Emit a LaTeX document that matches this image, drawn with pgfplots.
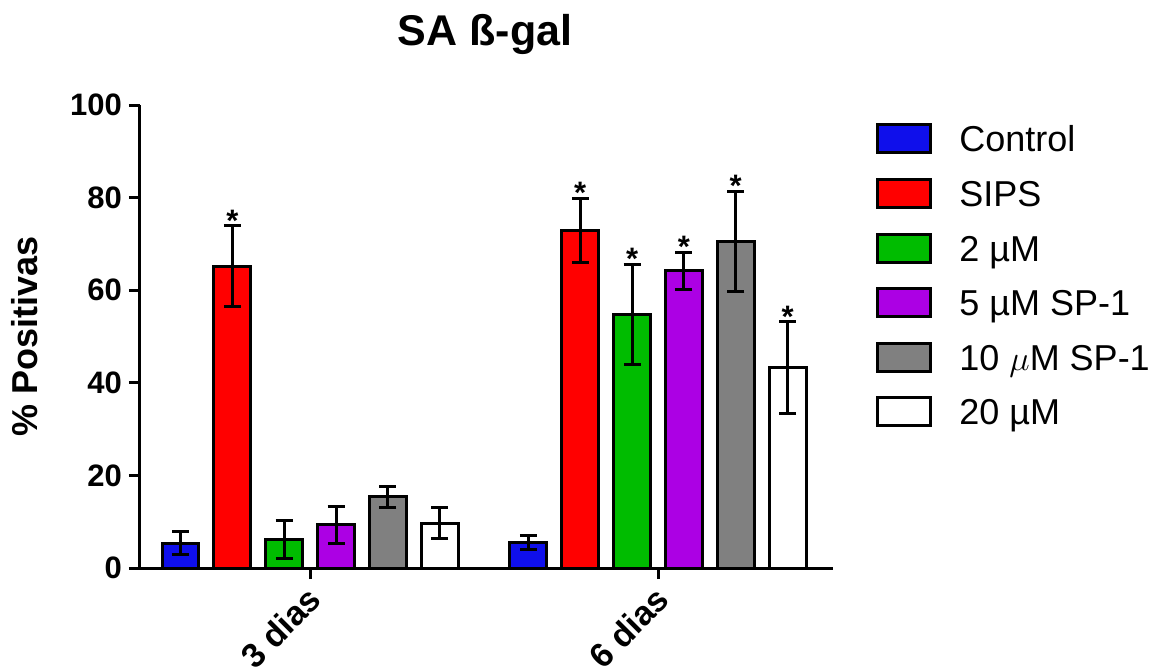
\documentclass[border=0pt]{standalone}
\usepackage{fontspec}
\setmainfont{Liberation Sans}
\usepackage{pgfplots}
\pgfplotsset{compat=1.18}

\definecolor{cblue}{RGB}{15,15,235}
\definecolor{cred}{RGB}{255,0,0}
\definecolor{cgreen}{RGB}{0,188,0}
\definecolor{cpurple}{RGB}{172,0,228}
\definecolor{cgray}{RGB}{128,128,128}

\pgfplotsset{
  mybar/.style={draw=black, line width=1.5pt, fill=#1,
    legend image code/.code={\draw[fill=#1, draw=black, line width=1.5pt] (0pt,-7pt) rectangle (26.5pt,7pt);},
    /pgfplots/error bars/y dir=both, /pgfplots/error bars/y explicit,
    /pgfplots/error bars/error bar style={line width=1.5pt, black},
    /pgfplots/error bars/error mark options={rotate=90, mark size=4.25pt, line width=1.5pt, black}}
}

\begin{document}
\begin{tikzpicture}
\begin{axis}[
  scale only axis,
  width=346.5pt, height=231.5pt,
  ybar, bar width=0.106,
  xmin=0.511, xmax=2.503, ymin=0, ymax=100,
  axis x line=bottom, axis y line=left,
  axis line style={-, line width=1.5pt},
  tick align=outside, major tick length=5.5pt,
  tick style={line width=1.5pt, black},
  minor tick num=0,
  xtick={1,2}, xticklabels={3 dias,6 dias},
  ytick={0,20,40,60,80,100},
  /pgf/number format/assume math mode=true,
  ticklabel style={font=\bfseries\fontsize{15.5}{18}\selectfont},
  xticklabel style={rotate=45, anchor=north east, yshift=3pt, font=\bfseries\fontsize{17}{20}\selectfont},
  title={SA ß-gal},
  title style={font=\bfseries\fontsize{21.5}{25}\selectfont, at={(0.498,1.102)}, anchor=base},
  ylabel={\% Positivas},
  ylabel style={font=\bfseries\fontsize{18}{21}\selectfont, at={(-0.166,0.501)}, anchor=center},
  legend style={draw=none, fill=none, at={(1.062,0.9728)}, anchor=north west,
    inner sep=0pt, row sep=6.4pt, column sep=13.5pt,
    font=\fontsize{18}{21}\selectfont,
    nodes={inner sep=0pt, text height=16.9pt, text depth=4pt}},
  legend cell align=left,
]
\addplot[mybar=cblue, bar shift=-0.3725] coordinates {(1,5.4) +- (0,2.4) (2,5.5) +- (0,1.6)};
\addplot[mybar=cred, bar shift=-0.2235] coordinates {(1,65.2) +- (0,8.7) (2,72.9) +- (0,7.0)};
\addplot[mybar=cgreen, bar shift=-0.0745] coordinates {(1,6.2) +- (0,4.1) (2,54.8) +- (0,10.8)};
\addplot[mybar=cpurple, bar shift=0.0745] coordinates {(1,9.3) +- (0,4.0) (2,64.2) +- (0,4.0)};
\addplot[mybar=cgray, bar shift=0.2235] coordinates {(1,15.4) +- (0,2.3) (2,70.6) +- (0,10.8)};
\addplot[mybar=white, bar shift=0.3725] coordinates {(1,9.7) +- (0,3.3) (2,43.3) +- (0,9.9)};
\legend{Control, SIPS, 2 µM, 5 µM SP-1, 10 $\mu$M SP-1, 20 µM}
% significance stars, at the top of each error bar
\addplot[forget plot, draw=none, fill=none, bar shift=0,
  nodes near coords={*},
  nodes near coords style={font=\bfseries\fontsize{15.5}{18}\selectfont, inner sep=0pt, anchor=south, yshift=-3pt}]
  coordinates {(0.7765,73.9) (1.7765,79.9) (1.9255,65.6) (2.0745,68.2) (2.2235,81.4) (2.3725,53.2)};
\end{axis}
\pgfresetboundingbox
\useasboundingbox (-70pt,-51pt) rectangle (508pt,284pt);
\end{tikzpicture}
\end{document}
